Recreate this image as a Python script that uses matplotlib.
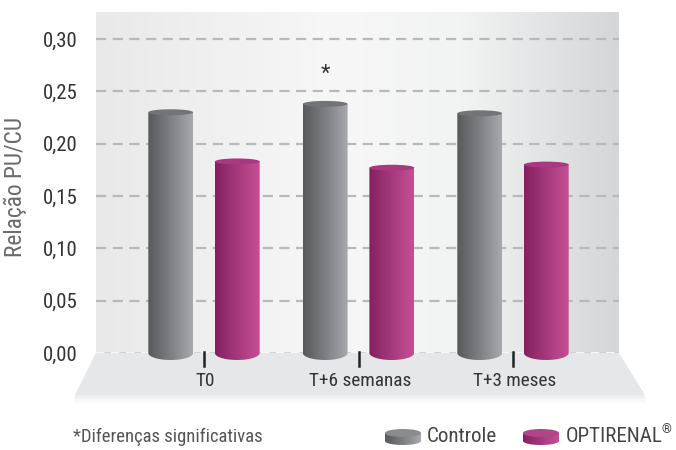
import numpy as np
import matplotlib
matplotlib.use("Agg")
import logging
logging.getLogger("matplotlib.font_manager").setLevel(logging.ERROR)
import matplotlib.pyplot as plt
from matplotlib.patches import Ellipse, Polygon, PathPatch
from matplotlib.path import Path
from matplotlib.colors import LinearSegmentedColormap

# ---- data ----
categories = ["T0", "T+6 semanas", "T+3 meses"]
series_names = ["Controle", "OPTIRENAL"]
controle = [0.230, 0.238, 0.229]
optirenal = [0.183, 0.177, 0.180]
yticks = [0.00, 0.05, 0.10, 0.15, 0.20, 0.25, 0.30]
ytick_labels = ["0,00", "0,05", "0,10", "0,15", "0,20", "0,25", "0,30"]
ylabel = "Rela\u00e7\u00e3o PU/CU"
footnote = "*Diferen\u00e7as significativas"
signif_marker = "*"
signif_index = 1

FONT = ["Roboto Condensed", "Sofia Sans Condensed", "Barlow Condensed", "Roboto", "DejaVu Sans"]
plt.rcParams["font.family"] = FONT

W, H = 676, 450
fig = plt.figure(figsize=(W / 100, H / 100), dpi=100)
canvas = fig.canvas

def fx(px):
    return px / W

def fy(py):
    return 1 - py / H

def fit(t, target_w, vertical=False):
    r = canvas.get_renderer()
    bb = t.get_window_extent(r)
    cur = bb.height if vertical else bb.width
    if cur > 0:
        t.set_fontsize(t.get_fontsize() * target_w / cur)
    return t

# axes region in pixels
L, R, T, B = 96, 619, 12, 353
ax = fig.add_axes([fx(L), fy(B), fx(R) - fx(L), fy(T) - fy(B)])
px_per_unit = (B - 39) / 0.30
ymax = (B - T) / px_per_unit
xlim = (-0.699, 2.686)
ax.set_xlim(*xlim)
ax.set_ylim(0, ymax)
for s in ax.spines.values():
    s.set_visible(False)

# background panel gradient
bg = LinearSegmentedColormap.from_list("bg", [(0, "#e9e9ea"), (0.45, "#f7f7f7"), (0.7, "#f2f3f3"), (1, "#d5d6d8")])
ax.imshow(np.linspace(0, 1, 256)[None, :], cmap=bg, aspect="auto",
          extent=(xlim[0], xlim[1], 0, ymax), zorder=0, interpolation="bilinear")

# floor (decoration in figure coords)
for i, a in enumerate([0.05, 0.05, 0.04, 0.03]):
    d = 2 + i * 2
    fig.patches.append(Polygon([(fx(L), fy(B)), (fx(R), fy(B)), (fx(645 + d * 0.3), fy(395 + d)),
                                (fx(75 - d * 0.3), fy(395 + d))], closed=True,
                               transform=fig.transFigure, facecolor="#9a9a9a", alpha=a,
                               edgecolor="none", zorder=-2))
fig.patches.append(Polygon([(fx(L), fy(B)), (fx(R), fy(B)), (fx(645), fy(395)), (fx(75), fy(395))],
                           closed=True, transform=fig.transFigure, facecolor="#e6e7e8",
                           edgecolor="none", zorder=-1))

# grid lines
for v in yticks:
    if v == 0:
        ax.axhline(v, color="#d0d0d0", lw=2.0, zorder=1)
        ax.axhline(v, color="white", lw=1.2, dashes=(5, 4), zorder=1.1)
    else:
        ax.axhline(v, color="#b9b9bb", lw=1.6, dashes=(4.6, 2.9), zorder=1)

ax.set_yticks(yticks)
ax.set_yticklabels(ytick_labels, fontsize=14, color="#333333")
ax.tick_params(axis="y", length=0, pad=13)
ax.set_xticks([])

# cylinders
bar_w = 0.29
offset = 0.2155
top_h = 6.0 / px_per_unit
bot_h = 14.0 / px_per_unit

cm_grey = LinearSegmentedColormap.from_list("g", ["#58595b", "#7e7f82", "#a7a9ac"])
cm_mag = LinearSegmentedColormap.from_list("m", ["#842060", "#a43a7c", "#c74f94"])
top_grey = "#737476"
top_mag = "#a8387f"

x = np.arange(len(categories))

def draw_cyl(rect, v, cmap, topc):
    x0 = rect.get_x()
    w = rect.get_width()
    x1 = x0 + w
    xc = x0 + w / 2
    th = np.linspace(np.pi, 2 * np.pi, 40)
    arc = np.column_stack([xc + (w / 2) * np.cos(th), (bot_h / 2) * np.sin(th)])
    verts = np.vstack([[[x0, v]], [[x0, 0]], arc, [[x1, 0]], [[x1, v]], [[x0, v]]])
    codes = [Path.MOVETO] + [Path.LINETO] * (len(verts) - 2) + [Path.CLOSEPOLY]
    pp = PathPatch(Path(verts, codes), facecolor="none", edgecolor="none",
                   transform=ax.transData)
    ax.add_patch(pp)
    pp.set_clip_on(False)
    im = ax.imshow(np.linspace(0, 1, 256)[None, :], cmap=cmap, aspect="auto",
                   extent=(x0, x1, -bot_h, v), zorder=3, interpolation="bilinear")
    im.set_clip_path(pp)
    im.set_clip_box(fig.bbox)
    ax.add_patch(Ellipse((xc, v), w, top_h, facecolor=topc, edgecolor="none", zorder=4))

bars_c = ax.bar(x - offset, controle, bar_w, color="none", edgecolor="none", zorder=2)
bars_o = ax.bar(x + offset, optirenal, bar_w, color="none", edgecolor="none", zorder=2)
for r, v in zip(bars_c, controle):
    draw_cyl(r, v, cm_grey, top_grey)
for r, v in zip(bars_o, optirenal):
    draw_cyl(r, v, cm_mag, top_mag)
ax.set_xlim(*xlim)
ax.set_ylim(0, ymax)

# fit y tick label size: "0,30" ~35 px wide
fig.canvas.draw()
r = canvas.get_renderer()
lbl = ax.get_yticklabels()[-1]
wcur = lbl.get_window_extent(r).width
fs_tick = 14 * 35.0 / wcur
ax.tick_params(axis="y", labelsize=fs_tick)
ax.set_yticklabels(ytick_labels, fontsize=fs_tick, color="#333333")

# significance marker
ax.text(x[signif_index] - offset, controle[signif_index] + 0.028, signif_marker,
        ha="center", va="center", fontsize=fs_tick * 1.05, color="#333333")

# category ticks and labels (on the floor)
cat_texts = []
for xi, lab in zip(x, categories):
    ax.plot([xi, xi], [0.001, -12.5 / px_per_unit], color="#222222", lw=1.8,
            clip_on=False, zorder=5)
    t = ax.text(xi + 0.01, -28 / px_per_unit, lab, ha="center", va="center",
                fontsize=13, color="#333333", clip_on=False)
    cat_texts.append(t)
fit(cat_texts[1], 102)
for t in cat_texts:
    t.set_fontsize(cat_texts[1].get_fontsize())

# y label
yl = fig.text(fx(15), fy(187), ylabel, rotation=90, ha="center", va="center",
              fontsize=14, color="#6a6b6e")
fit(yl, 141, vertical=True)

# footnote
fn = fig.text(fx(73), fy(437), footnote, ha="left", va="center", fontsize=12.5,
              color="#555555")
fit(fn, 191)

# legend (custom disk icons)
def disk(xl, yc, cmap, topc):
    w, h, eh = 36, 8, 8
    axi = fig.add_axes([fx(xl), fy(yc + h / 2 + eh / 2), fx(w), (h + eh) / H])
    axi.axis("off")
    th = np.linspace(np.pi, 2 * np.pi, 40)
    arc = np.column_stack([w / 2 + (w / 2) * np.cos(th), eh / 2 + (eh / 2) * np.sin(th)])
    verts = np.vstack([[[0, eh / 2 + h]], [[0, eh / 2]], arc, [[w, eh / 2]], [[w, eh / 2 + h]], [[0, eh / 2 + h]]])
    codes = [Path.MOVETO] + [Path.LINETO] * (len(verts) - 2) + [Path.CLOSEPOLY]
    pp = PathPatch(Path(verts, codes), facecolor="none", edgecolor="none")
    axi.add_patch(pp)
    im = axi.imshow(np.linspace(0, 1, 256)[None, :], cmap=cmap, aspect="auto",
                    extent=(0, w, 0, h + eh), interpolation="bilinear")
    im.set_clip_path(pp)
    axi.add_patch(Ellipse((w / 2, eh / 2 + h), w, eh, facecolor=topc, edgecolor="none", zorder=4))
    axi.set_xlim(0, w)
    axi.set_ylim(0, h + eh)

disk(385, 437, cm_grey, "#8a8b8d")
lc = fig.text(fx(427), fy(437), series_names[0], ha="left", va="center", fontsize=14,
              color="#444444")
fit(lc, 71)
disk(523, 437, cm_mag, "#b24489")
lo = fig.text(fx(566), fy(437), series_names[1], ha="left", va="center",
              fontsize=lc.get_fontsize(), color="#444444")
fig.canvas.draw()
bb = lo.get_window_extent(canvas.get_renderer())
fig.text(bb.x1 / W - 1.0 / W, fy(430), "\u00ae", ha="left", va="center",
         fontsize=lc.get_fontsize() * 0.6, color="#444444")

fig.savefig("out.png", dpi=100, facecolor="white")
